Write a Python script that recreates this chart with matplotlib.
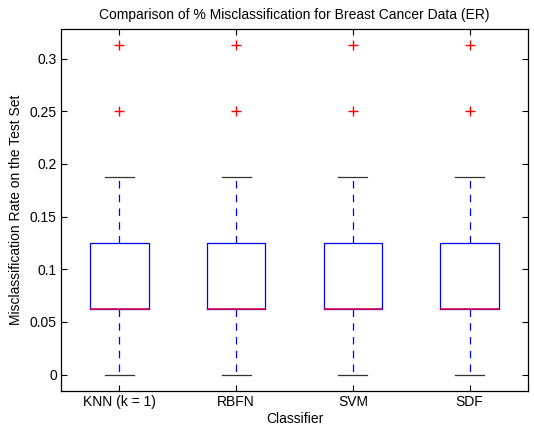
import matplotlib
matplotlib.use("Agg")
from matplotlib import pyplot as plt

plt.rcParams['font.family'] = ['Liberation Sans', 'DejaVu Sans']

classifiers = ["KNN (k = 1)", "RBFN", "SVM", "SDF"]
q1 = [0.0625, 0.0625, 0.0625, 0.0625]
med = [0.0625, 0.0625, 0.0625, 0.0625]
q3 = [0.125, 0.125, 0.125, 0.125]
whislo = [0.0, 0.0, 0.0, 0.0]
whishi = [0.1875, 0.1875, 0.1875, 0.1875]
outliers = [[0.25, 0.3125], [0.25, 0.3125], [0.25, 0.3125], [0.25, 0.3125]]

stats = []
for i, name in enumerate(classifiers):
    stats.append({"label": name, "q1": q1[i], "med": med[i], "q3": q3[i],
                  "whislo": whislo[i], "whishi": whishi[i], "fliers": outliers[i]})

fig = plt.figure(figsize=(5.34, 4.29), dpi=100)
ax = fig.add_axes([0.1142, 0.0886, 0.8745, 0.8438])

ax.bxp(stats, widths=0.5, showfliers=True,
       boxprops=dict(color="blue", linewidth=0.9),
       medianprops=dict(color="#e0004a", linewidth=1.2),
       whiskerprops=dict(color="blue", linestyle=(0, (6, 5)), linewidth=0.9),
       capprops=dict(color="#333333", linewidth=0.9),
       flierprops=dict(marker="+", markeredgecolor="red", markersize=7, linestyle="none"),
       capwidths=0.25)

ax.set_xlim(0.5, 4.5)
ax.set_ylim(-0.015625, 0.328125)
ax.set_yticks([0, 0.05, 0.1, 0.15, 0.2, 0.25, 0.3])
ax.set_yticklabels(["0", "0.05", "0.1", "0.15", "0.2", "0.25", "0.3"])
ax.tick_params(direction="in", top=True, right=True, labelsize=10, length=4, pad=3)
for s in ax.spines.values():
    s.set_linewidth(0.9)

ax.set_title("Comparison of % Misclassification for Breast Cancer Data (ER)", fontsize=10, pad=7)
ax.set_xlabel("Classifier", fontsize=10, labelpad=2)
ax.set_ylabel("Misclassification Rate on the Test Set", fontsize=10, labelpad=5)

fig.savefig("out.png", dpi=100)
